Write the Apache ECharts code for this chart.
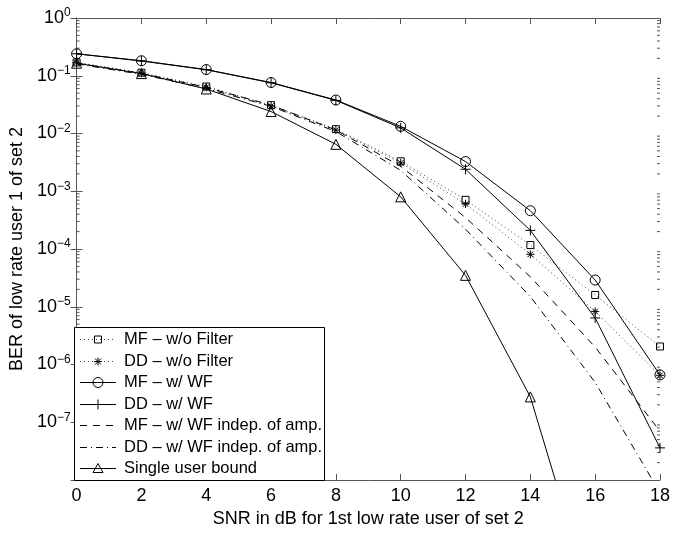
<!DOCTYPE html>
<html>
<head>
<meta charset="utf-8">
<script src="https://cdn.jsdelivr.net/npm/echarts@6/dist/echarts.min.js"></script>
<style>
html,body{margin:0;padding:0;background:#fff;}
#main{width:673px;height:533px;}
</style>
</head>
<body>
<div id="main"></div>
<script>
// SNR points (dB)
var snr = [0, 2, 4, 6, 8, 10, 12, 14, 16, 18];
var xTicks = [0, 2, 4, 6, 8, 10, 12, 14, 16, 18];

// BER values
var mfNoFilter = [0.17, 0.113, 0.065, 0.031, 0.0119, 0.0033, 7.1e-4, 1.17e-4, 1.6e-5, 2.05e-6];
var ddNoFilter = [0.168, 0.111, 0.063, 0.030, 0.0115, 0.0031, 6.0e-4, 8.1e-5, 8.3e-6, 6.5e-7];
var mfWF = [0.24, 0.182, 0.128, 0.0764, 0.038, 0.0133, 0.00327, 4.6e-4, 2.9e-5, 6.6e-7];
var ddWF = [0.24, 0.18, 0.127, 0.0755, 0.0375, 0.0125, 0.0024, 2.1e-4, 6.4e-6, 3.6e-8];
var mfWFIndep = [0.165, 0.11, 0.063, 0.031, 0.0115, 0.0027, 3.5e-4, 3.3e-5, 2.0e-6, 7e-8];
var ddWFIndep = [0.16, 0.106, 0.06, 0.0295, 0.0108, 0.0023, 2.2e-4, 1.5e-5, 4.9e-7, 6e-9];
var singleUser = [0.165, 0.109, 0.059, 0.024, 0.0065, 8.0e-4, 3.5e-5, 2.75e-7, 5e-11];

var names = ['MF \u2013 w/o Filter', 'DD \u2013 w/o Filter', 'MF \u2013 w/ WF', 'DD \u2013 w/ WF',
    'MF \u2013 w/ WF indep. of amp.', 'DD \u2013 w/ WF indep. of amp.', 'Single user bound'];

var yMin = 1e-8, yMax = 1;
var font = 'Liberation Sans, Arial, Helvetica, sans-serif';
var fs = 18;

function pairs(vals){
    var out = [];
    for(var i=0;i<vals.length;i++){
        out.push([snr[i], vals[i]]);
    }
    return out;
}

var starPath = 'path://M5,0L5,10M0,5L10,5M1.5,1.5L8.5,8.5M1.5,8.5L8.5,1.5';
var plusPath = 'path://M5,0L5,10M0,5L10,5';

var dotted = [1, 3], dashed = [7, 6], dashDot = [7, 4, 1, 4];

// marker / line style per series, same order as names
var styles = [
    {sym: 'rect', size: 7, dash: dotted, col: '#444'},
    {sym: 'star', size: 8, dash: dotted, col: '#444'},
    {sym: 'circle', size: 10, dash: 'solid', col: '#000'},
    {sym: 'plus', size: 10, dash: 'solid', col: '#000'},
    {sym: 'none', size: 0, dash: dashed, col: '#000'},
    {sym: 'none', size: 0, dash: dashDot, col: '#000'},
    {sym: 'triangle', size: 10, dash: 'solid', col: '#000'}
];
var values = [mfNoFilter, ddNoFilter, mfWF, ddWF, mfWFIndep, ddWFIndep, singleUser];

function symName(s){
    if(s == 'star') return starPath;
    if(s == 'plus') return plusPath;
    return s;
}

var series = [];
for(var i=0;i<names.length;i++){
    var st = styles[i];
    series.push({
        name: names[i],
        type: 'line',
        data: pairs(values[i]),
        symbol: symName(st.sym),
        symbolSize: st.size,
        showSymbol: st.sym !== 'none',
        clip: true,
        animation: false,
        lineStyle: {color: st.col, width: 1, type: st.dash},
        itemStyle: {color: 'none', borderColor: '#000', borderWidth: 1},
        emphasis: {disabled: true}
    });
}

function expLabel(v){
    var e = Math.round(Math.log(v) / Math.LN10);
    if(e < -7) return '';
    var s = e === 0 ? '0' : '\u2212' + (-e);
    return '{b|10}{e|' + s + '}';
}

var axisCol = '#555';

var option = {
    backgroundColor: '#fff',
    animation: false,
    grid: {left: 68, right: 8, top: 18, bottom: 47, containLabel: false},
    xAxis: [{
        type: 'value',
        min: 0, max: 18, interval: 2,
        name: 'SNR in dB for 1st low rate user of set 2',
        nameLocation: 'middle',
        nameGap: 30,
        nameTextStyle: {fontFamily: font, fontSize: fs, color: '#000'},
        axisLine: {lineStyle: {color: axisCol}},
        axisTick: {inside: true, length: 6, lineStyle: {color: axisCol}},
        axisLabel: {fontFamily: font, fontSize: fs, color: '#000', margin: 7,
            formatter: function(v){ return xTicks.indexOf(v) >= 0 ? String(v) : ''; }},
        splitLine: {show: false}
    }, {
        type: 'value',
        position: 'top',
        min: 0, max: 18, interval: 2,
        axisLine: {show: true, onZero: false, lineStyle: {color: axisCol}},
        axisTick: {inside: true, length: 6, lineStyle: {color: axisCol}},
        axisLabel: {show: false},
        splitLine: {show: false}
    }],
    yAxis: [{
        type: 'log',
        logBase: 10,
        min: yMin, max: yMax,
        interval: 1,
        name: 'BER of low rate user 1 of set 2',
        nameLocation: 'middle',
        nameRotate: 90,
        nameGap: 33,
        nameTextStyle: {fontFamily: font, fontSize: fs, color: '#000'},
        axisLine: {show: true, lineStyle: {color: axisCol}},
        axisTick: {inside: true, length: 6, lineStyle: {color: axisCol}},
        axisLabel: {
            margin: 6,
            formatter: expLabel,
            rich: {
                b: {fontFamily: font, fontSize: fs, color: '#000'},
                e: {fontFamily: font, fontSize: 12, color: '#000', verticalAlign: 'top', padding: [0, 0, 10, 0]}
            }
        },
        splitLine: {show: false}
    }, {
        type: 'log',
        logBase: 10,
        position: 'right',
        min: yMin, max: yMax,
        interval: 1,
        axisLine: {show: true, lineStyle: {color: axisCol}},
        axisTick: {inside: true, length: 6, lineStyle: {color: axisCol}},
        axisLabel: {show: false},
        splitLine: {show: false}
    }],
    series: series
};

var chart = echarts.init(document.getElementById('main'), null, {renderer: 'canvas'});
chart.setOption(option);

// legend marker drawn as graphic
function legendMarker(s, cx, cy){
    var ln = {stroke: '#000', fill: 'none', lineWidth: 1};
    if(s == 'rect') return [{type: 'rect', shape: {x: cx-3.5, y: cy-3.5, width: 7, height: 7}, style: ln}];
    if(s == 'circle') return [{type: 'circle', shape: {cx: cx, cy: cy, r: 5}, style: ln}];
    if(s == 'triangle') return [{type: 'polygon', shape: {points: [[cx, cy-5], [cx-5, cy+4], [cx+5, cy+4]]}, style: ln}];
    if(s == 'plus') return [
        {type: 'line', shape: {x1: cx, y1: cy-5, x2: cx, y2: cy+5}, style: ln}
    ];
    if(s == 'star') return [
        {type: 'line', shape: {x1: cx, y1: cy-4, x2: cx, y2: cy+4}, style: ln},
        {type: 'line', shape: {x1: cx-4, y1: cy, x2: cx+4, y2: cy}, style: ln},
        {type: 'line', shape: {x1: cx-3, y1: cy-3, x2: cx+3, y2: cy+3}, style: ln},
        {type: 'line', shape: {x1: cx-3, y1: cy+3, x2: cx+3, y2: cy-3}, style: ln}
    ];
    return [];
}

function decorate(){
    var xl = chart.convertToPixel({xAxisIndex: 0}, 0);
    var xr = chart.convertToPixel({xAxisIndex: 0}, 18);
    var els = [];
    // log minor ticks (2..9 in every decade) on left and right axes
    for(var d = -8; d < 0; d++){
        for(var k = 2; k <= 9; k++){
            var y = chart.convertToPixel({yAxisIndex: 0}, k * Math.pow(10, d));
            els.push({type: 'line', silent: true,
                shape: {x1: xl, y1: y, x2: xl + 3, y2: y},
                style: {stroke: axisCol, lineWidth: 1}});
            els.push({type: 'line', silent: true,
                shape: {x1: xr, y1: y, x2: xr - 3, y2: y},
                style: {stroke: axisCol, lineWidth: 1}});
        }
    }
    // legend box
    var bx = 74, by = 327, bw = 250, bh = 153;
    els.push({type: 'rect', z: 100, shape: {x: bx + 0.5, y: by + 0.5, width: bw, height: bh},
        style: {fill: '#fff', stroke: '#000', lineWidth: 1}});
    for(var i=0;i<names.length;i++){
        var ry = Math.round(by + 12 + i * 21.5) + 0.5;
        var st = styles[i];
        els.push({type: 'line', z: 101, shape: {x1: 80, y1: ry, x2: 116, y2: ry},
            style: {stroke: st.col, lineWidth: 1, lineDash: st.dash == 'solid' ? null : st.dash}});
        var mk = legendMarker(st.sym, 98, ry);
        for(var j=0;j<mk.length;j++){
            mk[j].z = 102;
            els.push(mk[j]);
        }
        els.push({type: 'text', z: 102, style: {x: 124, y: ry, text: names[i], fill: '#000',
            font: '16.5px ' + font, textVerticalAlign: 'middle', verticalAlign: 'middle'}});
    }
    chart.setOption({graphic: els});
}
decorate();
</script>
</body>
</html>
